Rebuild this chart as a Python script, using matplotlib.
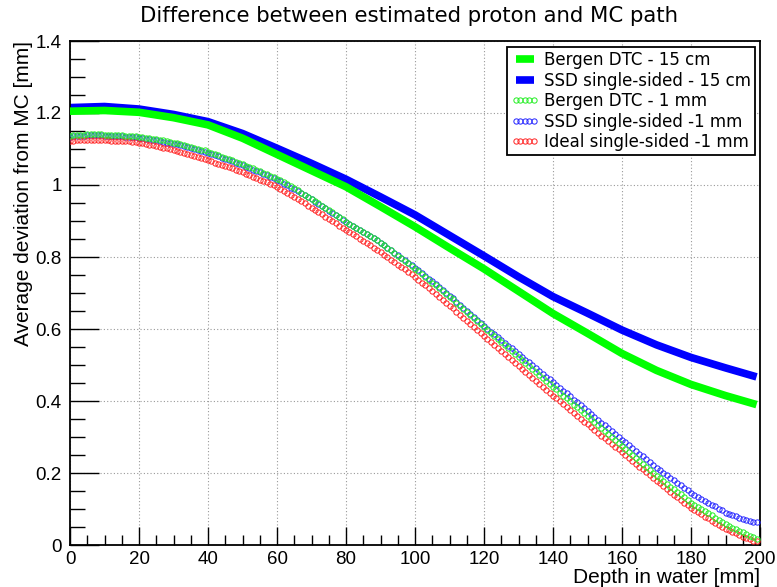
import numpy as np
import matplotlib
matplotlib.use("Agg")
import matplotlib.pyplot as plt
from matplotlib.ticker import MultipleLocator

# thick curves, read every 10 mm (last point at 199 mm)
depth_coarse = [0, 10, 20, 30, 40, 50, 60, 70, 80, 90, 100,
                110, 120, 130, 140, 150, 160, 170, 180, 190, 199]
bergen_15cm = [1.205, 1.207, 1.202, 1.187, 1.167, 1.130, 1.085, 1.040, 0.995, 0.940, 0.884,
               0.825, 0.767, 0.705, 0.643, 0.588, 0.532, 0.485, 0.446, 0.415, 0.390]
ssd_15cm = [1.215, 1.218, 1.211, 1.196, 1.176, 1.143, 1.102, 1.060, 1.016, 0.967, 0.917,
            0.860, 0.803, 0.745, 0.690, 0.644, 0.597, 0.556, 0.521, 0.492, 0.467]

# open-circle curves, one reading per mm (0..199)
depth_fine = list(range(0, 200))
bergen_1mm = [
    1.137, 1.138, 1.139, 1.140, 1.140, 1.141, 1.141, 1.141, 1.141, 1.141,
    1.140, 1.140, 1.139, 1.139, 1.138, 1.138, 1.137, 1.137, 1.136, 1.135,
    1.134, 1.133, 1.131, 1.130, 1.128, 1.127, 1.125, 1.124, 1.122, 1.120,
    1.118, 1.116, 1.113, 1.111, 1.108, 1.106, 1.103, 1.101, 1.098, 1.096,
    1.093, 1.090, 1.086, 1.083, 1.079, 1.076, 1.072, 1.069, 1.065, 1.062,
    1.058, 1.054, 1.050, 1.046, 1.042, 1.038, 1.034, 1.030, 1.026, 1.022,
    1.018, 1.013, 1.007, 1.002, 0.996, 0.991, 0.985, 0.979, 0.973, 0.968,
    0.962, 0.956, 0.949, 0.943, 0.936, 0.930, 0.924, 0.918, 0.911, 0.905,
    0.898, 0.892, 0.886, 0.881, 0.875, 0.869, 0.863, 0.858, 0.852, 0.846,
    0.840, 0.833, 0.826, 0.819, 0.811, 0.804, 0.797, 0.790, 0.782, 0.775,
    0.768, 0.760, 0.752, 0.745, 0.737, 0.729, 0.721, 0.714, 0.706, 0.698,
    0.690, 0.682, 0.673, 0.665, 0.656, 0.648, 0.639, 0.631, 0.622, 0.614,
    0.605, 0.597, 0.588, 0.580, 0.572, 0.564, 0.555, 0.547, 0.539, 0.531,
    0.522, 0.514, 0.506, 0.498, 0.489, 0.481, 0.473, 0.465, 0.456, 0.448,
    0.440, 0.432, 0.423, 0.415, 0.407, 0.399, 0.390, 0.382, 0.374, 0.366,
    0.357, 0.349, 0.341, 0.333, 0.324, 0.316, 0.308, 0.300, 0.291, 0.283,
    0.275, 0.267, 0.258, 0.250, 0.242, 0.234, 0.225, 0.217, 0.209, 0.201,
    0.192, 0.185, 0.177, 0.170, 0.162, 0.155, 0.148, 0.141, 0.133, 0.126,
    0.118, 0.112, 0.106, 0.100, 0.094, 0.088, 0.082, 0.076, 0.070, 0.064,
    0.058, 0.053, 0.048, 0.044, 0.039, 0.035, 0.030, 0.026, 0.022, 0.018]
ssd_1mm = [
    1.134, 1.135, 1.136, 1.137, 1.137, 1.138, 1.138, 1.138, 1.138, 1.138,
    1.137, 1.137, 1.136, 1.136, 1.135, 1.135, 1.134, 1.134, 1.133, 1.132,
    1.131, 1.130, 1.128, 1.127, 1.125, 1.124, 1.122, 1.120, 1.118, 1.117,
    1.115, 1.113, 1.110, 1.108, 1.105, 1.103, 1.100, 1.098, 1.095, 1.093,
    1.090, 1.087, 1.083, 1.080, 1.076, 1.073, 1.069, 1.066, 1.062, 1.059,
    1.055, 1.051, 1.047, 1.043, 1.039, 1.035, 1.031, 1.027, 1.023, 1.019,
    1.015, 1.010, 1.004, 0.999, 0.993, 0.988, 0.982, 0.977, 0.971, 0.966,
    0.960, 0.954, 0.948, 0.942, 0.935, 0.929, 0.923, 0.917, 0.910, 0.904,
    0.898, 0.892, 0.886, 0.881, 0.875, 0.869, 0.863, 0.858, 0.852, 0.846,
    0.840, 0.833, 0.826, 0.819, 0.812, 0.805, 0.798, 0.791, 0.784, 0.777,
    0.770, 0.763, 0.755, 0.747, 0.739, 0.732, 0.724, 0.716, 0.708, 0.701,
    0.693, 0.685, 0.676, 0.668, 0.659, 0.651, 0.642, 0.634, 0.625, 0.617,
    0.608, 0.600, 0.592, 0.585, 0.577, 0.569, 0.561, 0.554, 0.546, 0.538,
    0.530, 0.523, 0.515, 0.507, 0.499, 0.492, 0.484, 0.476, 0.468, 0.461,
    0.453, 0.445, 0.437, 0.429, 0.421, 0.413, 0.404, 0.396, 0.388, 0.380,
    0.372, 0.364, 0.356, 0.348, 0.340, 0.332, 0.324, 0.316, 0.308, 0.300,
    0.292, 0.285, 0.277, 0.269, 0.261, 0.254, 0.246, 0.238, 0.230, 0.223,
    0.215, 0.208, 0.201, 0.194, 0.187, 0.180, 0.173, 0.166, 0.159, 0.152,
    0.145, 0.140, 0.134, 0.129, 0.123, 0.118, 0.112, 0.107, 0.101, 0.096,
    0.090, 0.087, 0.083, 0.080, 0.076, 0.073, 0.070, 0.068, 0.065, 0.063]
ideal_1mm = [
    1.122, 1.123, 1.124, 1.125, 1.125, 1.125, 1.125, 1.125, 1.125, 1.125,
    1.124, 1.124, 1.123, 1.123, 1.122, 1.122, 1.121, 1.121, 1.120, 1.119,
    1.118, 1.116, 1.114, 1.112, 1.110, 1.108, 1.106, 1.104, 1.102, 1.100,
    1.098, 1.095, 1.092, 1.089, 1.086, 1.084, 1.081, 1.078, 1.075, 1.072,
    1.069, 1.066, 1.062, 1.059, 1.055, 1.052, 1.049, 1.046, 1.042, 1.039,
    1.035, 1.031, 1.027, 1.023, 1.019, 1.015, 1.011, 1.007, 1.003, 0.999,
    0.995, 0.989, 0.983, 0.978, 0.972, 0.966, 0.960, 0.955, 0.949, 0.943,
    0.937, 0.931, 0.925, 0.919, 0.912, 0.906, 0.900, 0.894, 0.887, 0.881,
    0.875, 0.869, 0.863, 0.857, 0.850, 0.844, 0.838, 0.832, 0.825, 0.819,
    0.813, 0.806, 0.799, 0.793, 0.786, 0.779, 0.772, 0.766, 0.759, 0.752,
    0.745, 0.737, 0.729, 0.721, 0.713, 0.705, 0.697, 0.689, 0.681, 0.673,
    0.665, 0.657, 0.648, 0.640, 0.631, 0.623, 0.614, 0.606, 0.597, 0.589,
    0.580, 0.572, 0.563, 0.555, 0.547, 0.539, 0.530, 0.522, 0.514, 0.506,
    0.497, 0.489, 0.481, 0.473, 0.464, 0.456, 0.448, 0.440, 0.431, 0.423,
    0.415, 0.407, 0.399, 0.391, 0.383, 0.375, 0.367, 0.359, 0.351, 0.343,
    0.335, 0.328, 0.320, 0.312, 0.304, 0.297, 0.289, 0.281, 0.273, 0.266,
    0.258, 0.250, 0.242, 0.234, 0.226, 0.218, 0.210, 0.202, 0.194, 0.186,
    0.178, 0.171, 0.163, 0.156, 0.148, 0.140, 0.132, 0.125, 0.117, 0.110,
    0.102, 0.097, 0.091, 0.085, 0.079, 0.074, 0.068, 0.062, 0.056, 0.051,
    0.045, 0.041, 0.036, 0.032, 0.027, 0.023, 0.019, 0.016, 0.012, 0.010]

fig = plt.figure(figsize=(7.77, 5.87), dpi=100)
ax = fig.add_axes([70 / 777, 42 / 587, 690 / 777, 504 / 587])

ax.plot(depth_coarse, bergen_15cm, color="#00ff00", lw=5.5, solid_capstyle="butt",
        label="Bergen DTC - 15 cm", zorder=3)
ax.plot(depth_coarse, ssd_15cm, color="#0000ff", lw=5.5, solid_capstyle="butt",
        label="SSD single-sided - 15 cm", zorder=2)
circ = dict(ls="none", marker="o", ms=3.8, mfc="none", mew=0.7)
ax.plot(depth_fine, bergen_1mm, mec="#22ee22", label="Bergen DTC - 1 mm", zorder=4, **circ)
ax.plot(depth_fine, ssd_1mm, mec="#2222ff", label="SSD single-sided -1 mm", zorder=3, **circ)
ax.plot(depth_fine, ideal_1mm, mec="#ff2222", label="Ideal single-sided -1 mm", zorder=3, **circ)

ax.set_xlim(0, 200)
ax.set_ylim(0, 1.4)
ax.xaxis.set_major_locator(MultipleLocator(20))
ax.xaxis.set_minor_locator(MultipleLocator(5))
ax.yaxis.set_major_locator(MultipleLocator(0.2))
ax.yaxis.set_minor_locator(MultipleLocator(0.05))
ax.yaxis.set_major_formatter(plt.FuncFormatter(lambda v, p: f"{v:g}"))

ax.grid(True, which="major", color="#999999", ls=(0, (1, 2)), lw=0.8)
ax.tick_params(which="both", direction="in", top=False, right=False,
               labelsize=13.5, colors="black")
ax.tick_params(axis="y", which="major", length=21, width=1, pad=6)
ax.tick_params(axis="y", which="minor", length=11, width=1)
ax.tick_params(axis="x", which="major", length=13, width=1, pad=4)
ax.tick_params(axis="x", which="minor", length=7, width=1)
for lab in ax.get_xticklabels() + ax.get_yticklabels():
    lab.set_family("Liberation Sans")
for sp in ax.spines.values():
    sp.set_linewidth(1.3)

ax.set_xlabel("Depth in water [mm]", fontsize=15, family="Liberation Sans",
              loc="right", labelpad=0)
ax.set_ylabel("Average deviation from MC [mm]", fontsize=15, family="Liberation Sans",
              loc="top", labelpad=2)
fig.text(0.527, 0.973, "Difference between estimated proton and MC path",
         ha="center", va="center", fontsize=15.3, family="DejaVu Sans")

leg = ax.legend(loc="upper right", bbox_to_anchor=(0.993, 0.988), borderaxespad=0,
                numpoints=5, handlelength=1.7, handletextpad=0.3,
                labelspacing=0.15, fancybox=False, framealpha=1, borderpad=0.25,
                prop={"family": "DejaVu Sans", "size": 12})
leg.get_frame().set_edgecolor("black")
leg.get_frame().set_linewidth(1.3)

fig.savefig("out.png", dpi=100)
